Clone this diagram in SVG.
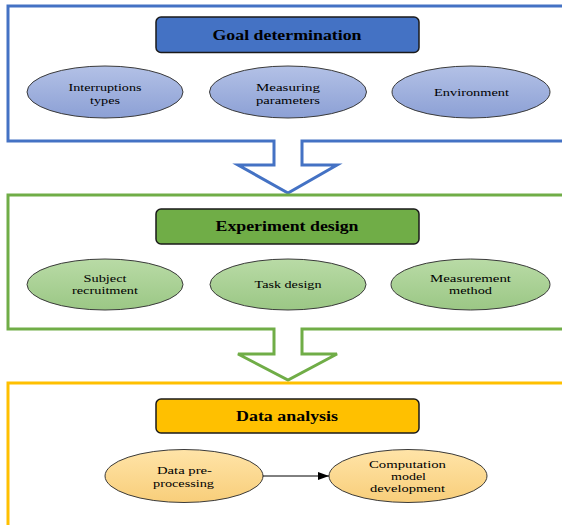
<svg xmlns="http://www.w3.org/2000/svg" width="562" height="525" viewBox="0 0 562 525">
<defs>
<linearGradient id="gb" x1="0" y1="0" x2="0" y2="1"><stop offset="0" stop-color="#B3C1E6"/><stop offset="1" stop-color="#8CA0D5"/></linearGradient>
<linearGradient id="gg" x1="0" y1="0" x2="0" y2="1"><stop offset="0" stop-color="#B9DBA6"/><stop offset="1" stop-color="#9BC785"/></linearGradient>
<linearGradient id="gy" x1="0" y1="0" x2="0" y2="1"><stop offset="0" stop-color="#FFE4A8"/><stop offset="1" stop-color="#F8CE7A"/></linearGradient>
<marker id="ah" viewBox="0 0 10 10" refX="10" refY="5" markerWidth="11" markerHeight="8" markerUnits="userSpaceOnUse" orient="auto" preserveAspectRatio="none"><path d="M0,0 L10,5 L0,10 Z" fill="#000"/></marker>
<style>
.frame{fill:none;stroke-width:3;stroke-linejoin:miter}
.title{stroke:#1a1a1a;stroke-width:1.5}
.ell{stroke:#3a3a3a;stroke-width:1}
.t{font-size:11px;fill:#000;text-anchor:middle}
.h{font-size:14px;font-weight:bold;fill:#000;text-anchor:middle}
</style>
</defs>
<g id="frames">
<path class="frame" stroke="#4472C4" d="M274,141 H8 V6 H566 V141 H302 V165 H337 L288,193 L238,165 H274 Z"/>
<path class="frame" stroke="#70AD47" d="M274,329 H8 V195 H566 V329 H302 V354 H337 L288,380 L238,354 H274 Z"/>
<path class="frame" stroke="#FFC000" d="M8,530 V383 H566"/>
</g>
<g font-family="Liberation Serif, Times New Roman, DejaVu Serif, serif">
<g id="goal">
<rect class="title" x="156" y="17" width="263" height="35.5" rx="5" fill="#4472C4"/>
<text class="h" x="287" y="39.5" textLength="149" lengthAdjust="spacingAndGlyphs">Goal determination</text>
</g>
<g id="interruptions">
<ellipse class="ell" cx="105" cy="92" rx="78" ry="26" fill="url(#gb)"/>
<text class="t" x="105" y="91" textLength="73" lengthAdjust="spacingAndGlyphs">Interruptions</text>
<text class="t" x="105" y="103.5" textLength="30" lengthAdjust="spacingAndGlyphs">types</text>
</g>
<g id="measuring">
<ellipse class="ell" cx="288" cy="92" rx="78.5" ry="26" fill="url(#gb)"/>
<text class="t" x="288" y="91" textLength="64" lengthAdjust="spacingAndGlyphs">Measuring</text>
<text class="t" x="288" y="103.5" textLength="64" lengthAdjust="spacingAndGlyphs">parameters</text>
</g>
<g id="environment">
<ellipse class="ell" cx="471" cy="92" rx="79" ry="26" fill="url(#gb)"/>
<text class="t" x="471.5" y="96" textLength="75" lengthAdjust="spacingAndGlyphs">Environment</text>
</g>
<g id="experiment">
<rect class="title" x="156" y="209" width="263" height="35" rx="5" fill="#70AD47"/>
<text class="h" x="287" y="231" textLength="143" lengthAdjust="spacingAndGlyphs">Experiment design</text>
</g>
<g id="subject">
<ellipse class="ell" cx="105" cy="284.5" rx="78" ry="25.5" fill="url(#gg)"/>
<text class="t" x="105" y="282.3" textLength="43" lengthAdjust="spacingAndGlyphs">Subject</text>
<text class="t" x="105" y="294" textLength="66" lengthAdjust="spacingAndGlyphs">recruitment</text>
</g>
<g id="task">
<ellipse class="ell" cx="288" cy="284.5" rx="78" ry="25.5" fill="url(#gg)"/>
<text class="t" x="288" y="288.3" textLength="67" lengthAdjust="spacingAndGlyphs">Task design</text>
</g>
<g id="method">
<ellipse class="ell" cx="470.5" cy="284.5" rx="79.5" ry="25.5" fill="url(#gg)"/>
<text class="t" x="470.5" y="282.3" textLength="81" lengthAdjust="spacingAndGlyphs">Measurement</text>
<text class="t" x="470.5" y="294" textLength="43" lengthAdjust="spacingAndGlyphs">method</text>
</g>
<g id="analysis">
<rect class="title" x="156" y="399" width="263" height="34" rx="5" fill="#FFC000"/>
<text class="h" x="287" y="421" textLength="102" lengthAdjust="spacingAndGlyphs">Data analysis</text>
</g>
<g id="preprocessing">
<ellipse class="ell" cx="184" cy="476" rx="79" ry="26.5" fill="url(#gy)"/>
<text class="t" x="184.5" y="474.3" textLength="55" lengthAdjust="spacingAndGlyphs">Data pre-</text>
<text class="t" x="183.5" y="486.7" textLength="61" lengthAdjust="spacingAndGlyphs">processing</text>
</g>
<g id="computation">
<ellipse class="ell" cx="408" cy="476" rx="79" ry="26.5" fill="url(#gy)"/>
<text class="t" x="407.5" y="468.3" textLength="77" lengthAdjust="spacingAndGlyphs">Computation</text>
<text class="t" x="408.5" y="480" textLength="35" lengthAdjust="spacingAndGlyphs">model</text>
<text class="t" x="407.5" y="491.7" textLength="75" lengthAdjust="spacingAndGlyphs">development</text>
</g>
</g>
<g id="connectors">
<line x1="263" y1="476" x2="329" y2="476" stroke="#000" stroke-width="1" marker-end="url(#ah)"/>
</g>
</svg>
